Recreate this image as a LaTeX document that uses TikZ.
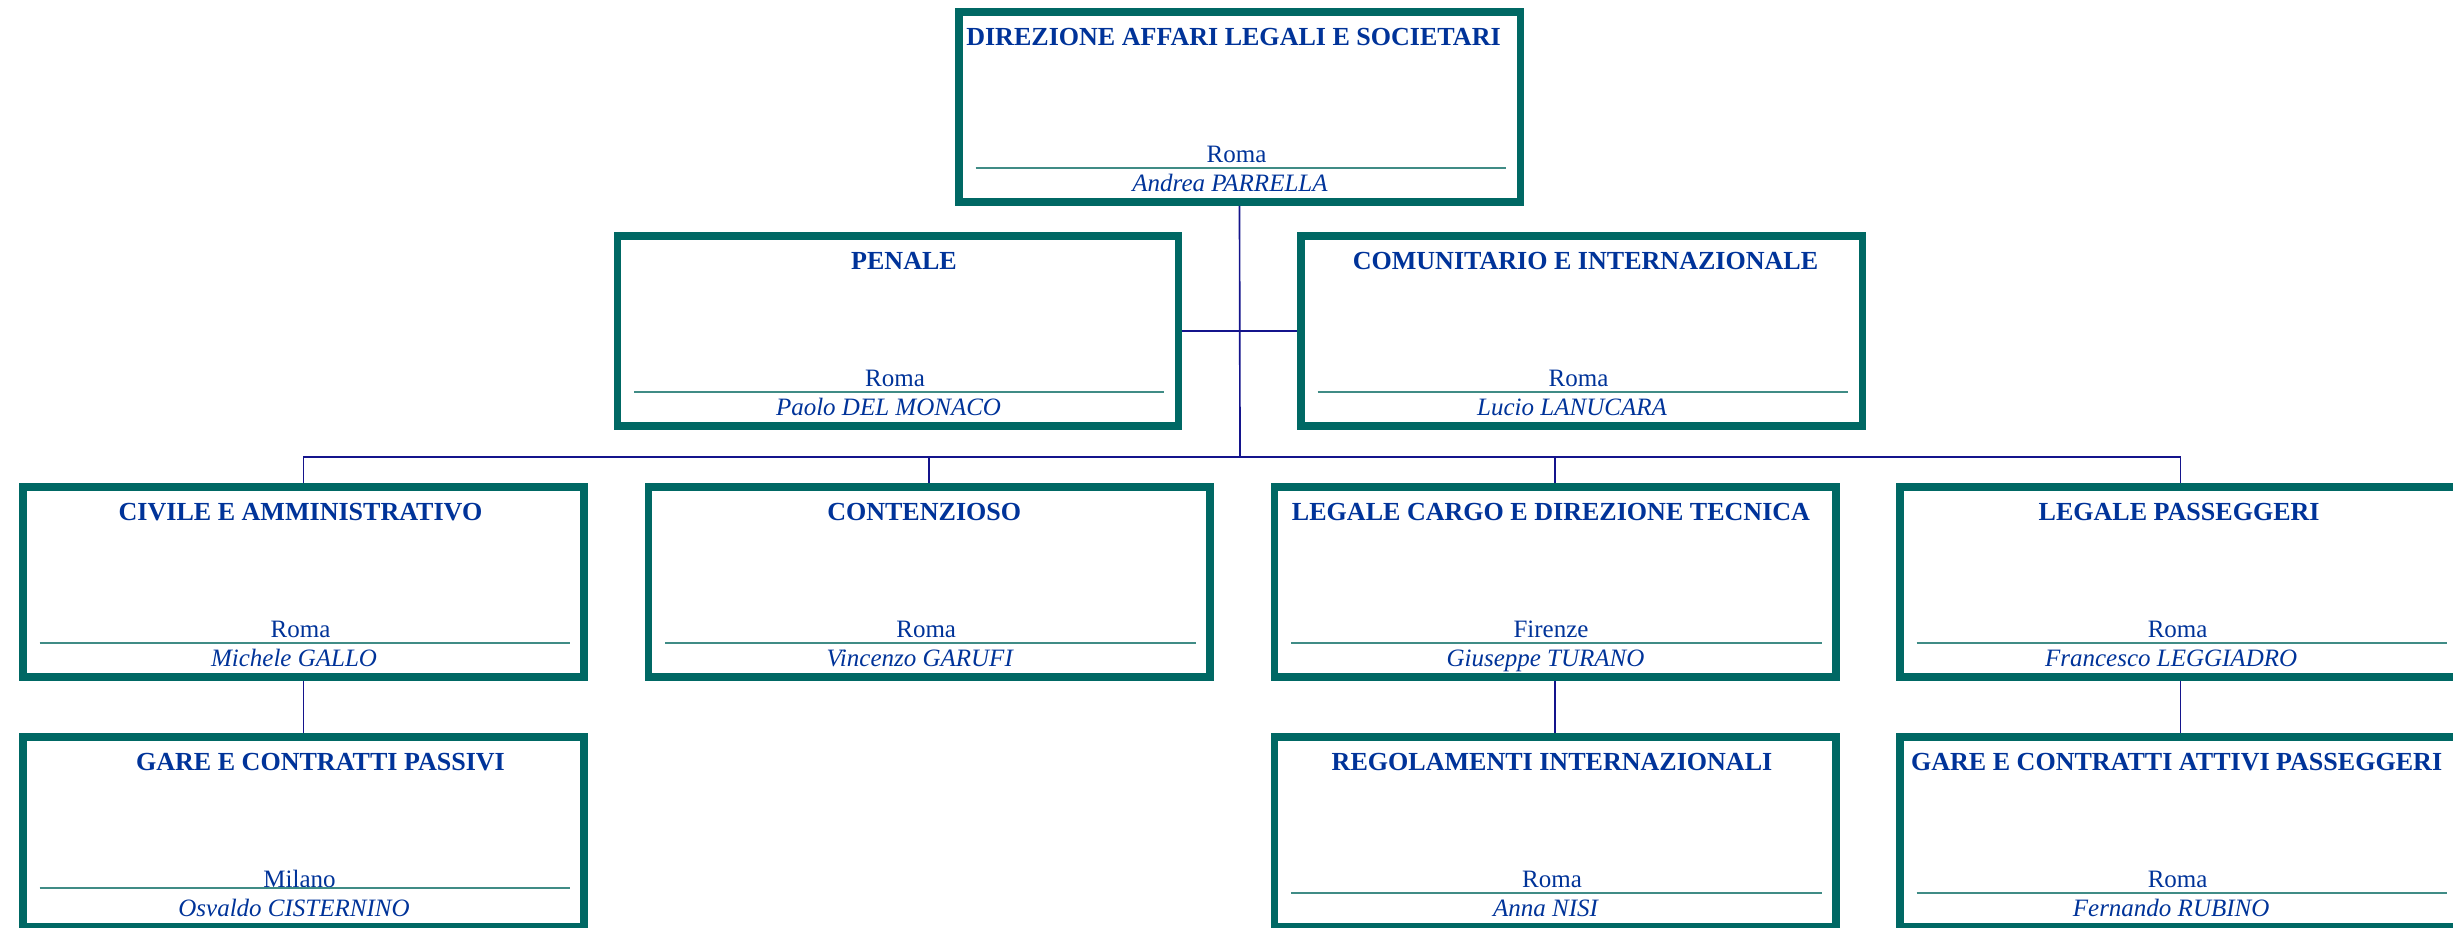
\documentclass[tikz,border=0pt]{standalone}
\usepackage{fontspec}
\setmainfont{Liberation Serif}
\usepackage{tikz}
\usetikzlibrary{calc}
\usetikzlibrary{positioning}
\definecolor{bordo}{RGB}{0,104,100}
\definecolor{testo}{RGB}{0,51,153}
\definecolor{riga}{RGB}{64,140,134}
\definecolor{linea}{RGB}{20,20,140}

\begin{document}
\begin{tikzpicture}[x=0.48pt,y=0.48pt,yscale=-1,xscale=1,
  ufficio/.style={draw=bordo,line width=3.6pt,minimum width=269.5pt,minimum height=91.4pt,inner sep=0pt},
  titolo/.style={anchor=base,inner sep=0pt,text=testo,font=\bfseries\fontsize{12.5}{15}\selectfont},
  sede/.style={anchor=base,inner sep=0pt,text=testo,font=\fontsize{12}{14}\selectfont},
  nome/.style={anchor=base,inner sep=0pt,text=testo,font=\itshape\fontsize{12}{14}\selectfont},
  rigasep/.style={draw=riga,line width=1pt},
  conn/.style={draw=linea,line width=0.8pt}]
                  \useasboundingbox (0,0) rectangle (2453,928);

                  %Shape: Rectangle [direzione]
                  \node[ufficio] (dir) at (1239.5,107) {};
                  \node[titolo] (dir-t) at ($(dir.north)+(-6,37)$) {DIREZIONE AFFARI LEGALI E SOCIETARI};
                  \node[sede] (dir-s) at ($(dir.south)+(-3,-43)$) {Roma};
                  \draw[rigasep] ($(dir.south west)+(20.5,-38)$) -- ($(dir.south east)+(-18,-38)$);
                  \node[nome] (dir-n) at ($(dir.south)+(-9.5,-14.5)$) {Andrea PARRELLA};

                  %Shape: Rectangle [penale]
                  \node[ufficio] (pen) at (898,331) {};
                  \node[titolo] (pen-t) at ($(pen.north)+(6,37)$) {PENALE};
                  \node[sede] (pen-s) at ($(pen.south)+(-3,-43)$) {Roma};
                  \draw[rigasep] ($(pen.south west)+(20.5,-38)$) -- ($(pen.south east)+(-18,-38)$);
                  \node[nome] (pen-n) at ($(pen.south)+(-9.5,-14.5)$) {Paolo DEL MONACO};

                  %Shape: Rectangle [comunitario]
                  \node[ufficio] (com) at (1581.5,331) {};
                  \node[titolo] (com-t) at ($(com.north)+(4,37)$) {COMUNITARIO E INTERNAZIONALE};
                  \node[sede] (com-s) at ($(com.south)+(-3,-43)$) {Roma};
                  \draw[rigasep] ($(com.south west)+(20.5,-38)$) -- ($(com.south east)+(-18,-38)$);
                  \node[nome] (com-n) at ($(com.south)+(-9.5,-14.5)$) {Lucio LANUCARA};

                  %Shape: Rectangle [civile]
                  \node[ufficio] (civ) at (303.5,582) {};
                  \node[titolo] (civ-t) at ($(civ.north)+(-3,37)$) {CIVILE E AMMINISTRATIVO};
                  \node[sede] (civ-s) at ($(civ.south)+(-3,-43)$) {Roma};
                  \draw[rigasep] ($(civ.south west)+(20.5,-38)$) -- ($(civ.south east)+(-18,-38)$);
                  \node[nome] (civ-n) at ($(civ.south)+(-9.5,-14.5)$) {Michele GALLO};

                  %Shape: Rectangle [contenzioso]
                  \node[ufficio] (cont) at (929.2,582) {};
                  \node[titolo] (cont-t) at ($(cont.north)+(-5,37)$) {CONTENZIOSO};
                  \node[sede] (cont-s) at ($(cont.south)+(-3,-43)$) {Roma};
                  \draw[rigasep] ($(cont.south west)+(20.5,-38)$) -- ($(cont.south east)+(-18,-38)$);
                  \node[nome] (cont-n) at ($(cont.south)+(-9.5,-14.5)$) {Vincenzo GARUFI};

                  %Shape: Rectangle [cargo]
                  \node[ufficio] (cargo) at (1555,582) {};
                  \node[titolo] (cargo-t) at ($(cargo.north)+(-4,37)$) {LEGALE CARGO E DIREZIONE TECNICA};
                  \node[sede] (cargo-s) at ($(cargo.south)+(-4,-43)$) {Firenze};
                  \draw[rigasep] ($(cargo.south west)+(20.5,-38)$) -- ($(cargo.south east)+(-18,-38)$);
                  \node[nome] (cargo-n) at ($(cargo.south)+(-9.5,-14.5)$) {Giuseppe TURANO};

                  %Shape: Rectangle [passeggeri]
                  \node[ufficio] (pass) at (2180.6,582) {};
                  \node[titolo] (pass-t) at ($(pass.north)+(-1.5,37)$) {LEGALE PASSEGGERI};
                  \node[sede] (pass-s) at ($(pass.south)+(-3,-43)$) {Roma};
                  \draw[rigasep] ($(pass.south west)+(20.5,-38)$) -- ($(pass.south east)+(-18,-38)$);
                  \node[nome] (pass-n) at ($(pass.south)+(-9.5,-14.5)$) {Francesco LEGGIADRO};

                  %Shape: Rectangle [gare passivi]
                  \node[ufficio] (gcp) at (303.5,832) {};
                  \node[titolo] (gcp-t) at ($(gcp.north)+(17,37)$) {GARE E CONTRATTI PASSIVI};
                  \node[sede] (gcp-s) at ($(gcp.south)+(-4,-43)$) {Milano};
                  \draw[rigasep] ($(gcp.south west)+(20.5,-43)$) -- ($(gcp.south east)+(-18,-43)$);
                  \node[nome] (gcp-n) at ($(gcp.south)+(-9.5,-14.5)$) {Osvaldo CISTERNINO};

                  %Shape: Rectangle [regolamenti]
                  \node[ufficio] (reg) at (1555,832) {};
                  \node[titolo] (reg-t) at ($(reg.north)+(-3,37)$) {REGOLAMENTI INTERNAZIONALI};
                  \node[sede] (reg-s) at ($(reg.south)+(-3,-43)$) {Roma};
                  \draw[rigasep] ($(reg.south west)+(20.5,-38)$) -- ($(reg.south east)+(-18,-38)$);
                  \node[nome] (reg-n) at ($(reg.south)+(-9.5,-14.5)$) {Anna NISI};

                  %Shape: Rectangle [gare attivi]
                  \node[ufficio] (gca) at (2180.6,832) {};
                  \node[titolo] (gca-t) at ($(gca.north)+(-4,37)$) {GARE E CONTRATTI ATTIVI PASSEGGERI};
                  \node[sede] (gca-s) at ($(gca.south)+(-3,-43)$) {Roma};
                  \draw[rigasep] ($(gca.south west)+(20.5,-38)$) -- ($(gca.south east)+(-18,-38)$);
                  \node[nome] (gca-n) at ($(gca.south)+(-9.5,-14.5)$) {Fernando RUBINO};

                  %Straight Lines
                  \coordinate (bus) at (1240,457);
                  \draw[conn] (dir.south) -- (bus);
                  \draw[conn] (pen.east) -- (com.west);
                  \draw[conn] (civ.north) |- (bus) -| (pass.north);
                  \draw[conn] (cont.north) -- (cont.north |- bus);
                  \draw[conn] (cargo.north) -- (cargo.north |- bus);
                  \draw[conn] (civ.south) -- (gcp.north);
                  \draw[conn] (cargo.south) -- (reg.north);
                  \draw[conn] (pass.south) -- (gca.north);

\end{tikzpicture}
\end{document}
